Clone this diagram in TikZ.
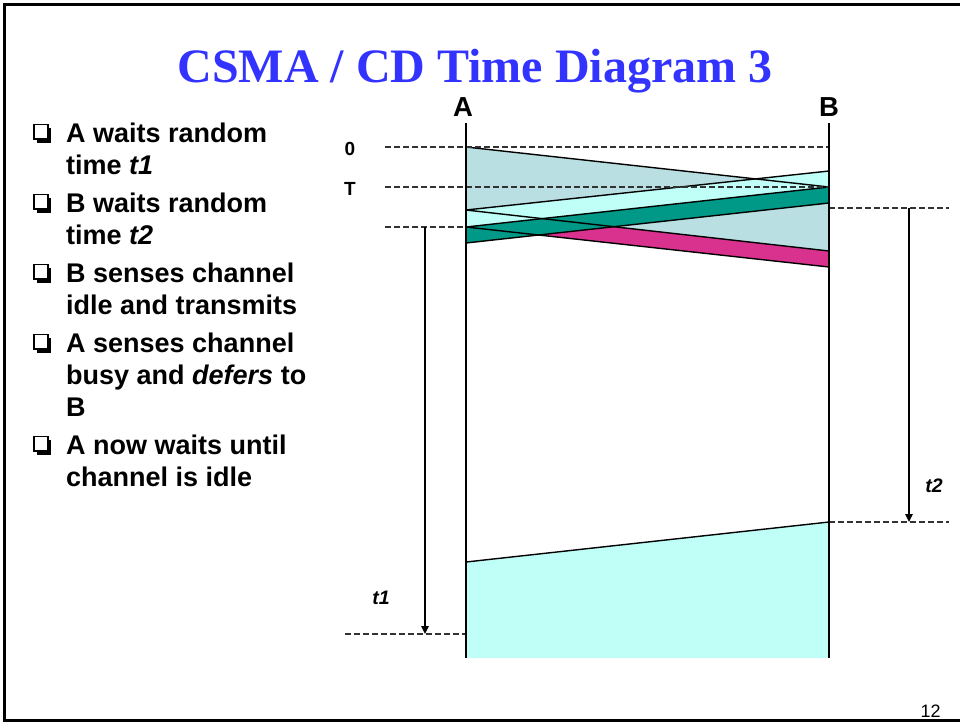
\documentclass[tikz,border=0pt]{standalone}
\usepackage{fontspec}
\setmainfont{Liberation Serif}
\setsansfont{Liberation Sans}
\usetikzlibrary{arrows.meta}

\definecolor{titleblue}{RGB}{51,51,255}
\definecolor{frameA}{RGB}{186,223,227}
\definecolor{frameB}{RGB}{191,255,248}
\definecolor{jamB}{RGB}{0,153,136}
\definecolor{jamA}{RGB}{217,50,142}
\definecolor{guide}{RGB}{50,50,50}

\tikzset{
  station/.style={line width=1.3pt, draw=black},
  edge/.style={line width=1.4pt, draw=black},
  guideline/.style={draw=guide, line width=1.3pt, dash pattern=on 5.5pt off 3.5pt},
  timearrow/.style={line width=1.3pt, -{Triangle[length=8pt,width=7.5pt]}},
  bullettext/.style={anchor=base west, inner sep=0pt, font=\sffamily\bfseries\fontsize{27}{30}\selectfont},
  stationlabel/.style={anchor=base, inner sep=0pt, font=\sffamily\bfseries\fontsize{27.5}{30}\selectfont},
  ticklabel/.style={anchor=base, inner sep=0pt, font=\sffamily\bfseries\fontsize{19}{20}\selectfont},
  durlabel/.style={anchor=base, inner sep=0pt, font=\sffamily\bfseries\itshape\fontsize{19.5}{22}\selectfont},
}

% hollow square bullet with a drop shadow, baseline at (#1,#2)
\newcommand{\sqbullet}[2]{%
  \fill[black] (#1+2.5,#2-14) rectangle (#1+17,#2+0.5);
  \filldraw[fill=white, draw=black, line width=1.6pt] (#1,#2-17.5) rectangle (#1+14,#2-3);
}

\begin{document}
\begin{tikzpicture}[x=1pt,y=-1pt]
\useasboundingbox (0,0) rectangle (960,721);
\fill[white] (0,0) rectangle (960,721);

% slide frame
\draw[line width=3pt] (962,4) -- (4.5,4) -- (4.5,720) -- (962,720);

% title
\node[anchor=base, inner sep=0pt, text=titleblue,
      font=\rmfamily\bfseries\fontsize{48}{56}\selectfont] (title) at (475,82)
      {CSMA / CD Time Diagram 3};

% bullet list
\foreach \yb in {142,212,282,352,454} {\sqbullet{34}{\yb}}
\node[bullettext] (b1a) at (66,142) {A waits random};
\node[bullettext] (b1b) at (66,174) {time \textit{t1}};
\node[bullettext] (b2a) at (66,212) {B waits random};
\node[bullettext] (b2b) at (66,244) {time \textit{t2}};
\node[bullettext] (b3a) at (66,282) {B senses channel};
\node[bullettext] (b3b) at (66,314) {idle and transmits};
\node[bullettext] (b4a) at (66,352) {A senses channel};
\node[bullettext] (b4b) at (66,384) {busy and \textit{defers} to};
\node[bullettext] (b4c) at (66,416) {B};
\node[bullettext] (b5a) at (66,454) {A now waits until};
\node[bullettext] (b5b) at (66,486) {channel is idle};

% key points on the two station time lines
\coordinate (Atop) at (466,123);  \coordinate (Abot) at (466,658);
\coordinate (Btop) at (829,123);  \coordinate (Bbot) at (829,658);
\coordinate (A0)   at (466,147);  \coordinate (B0)   at (829,147);
\coordinate (A210) at (466,210);  \coordinate (A227) at (466,227);
\coordinate (A243) at (466,243);  \coordinate (A562) at (466,562);
\coordinate (A634) at (466,634);
\coordinate (B171) at (829,171);  \coordinate (BT)   at (829,187);
\coordinate (B203) at (829,203);  \coordinate (B208) at (829,208);
\coordinate (B251) at (829,251);  \coordinate (B267) at (829,267);
\coordinate (B522) at (829,522);
\coordinate (L0) at (385,147);  \coordinate (LT) at (385,187);
\coordinate (L1) at (385,227);  \coordinate (L3) at (345,634);
\coordinate (R1) at (949,208);  \coordinate (R2) at (949,522);
\coordinate (t1s) at (425,227); \coordinate (t1e) at (425,634);
\coordinate (t2s) at (909,208); \coordinate (t2e) at (909,522);

% frames in flight
\fill[frameA] (A0) -- (BT) -- (B251) -- (A210) -- cycle;
\fill[jamA]   (A210) -- (B251) -- (B267) -- (A227) -- cycle;
\fill[frameB] (B171) -- (A210) -- (A227) -- (BT) -- cycle;
\fill[jamB]   (BT) -- (A227) -- (A243) -- (B203) -- cycle;
\fill[frameB] (A562) -- (B522) -- (Bbot) -- (Abot) -- cycle;

% frame edges
\draw[edge] (A0) -- (BT);
\draw[edge] (A210) -- (B251);
\draw[edge] (A227) -- (B267);
\draw[edge] (B171) -- (A210);
\draw[edge] (BT) -- (A227);
\draw[edge] (B203) -- (A243);
\draw[edge] (A562) -- (B522);

% guide lines
\draw[guideline] (L0) -- (B0);
\draw[guideline] (LT) -- (BT);
\draw[guideline] (L1) -- (A227);
\draw[guideline] (L3) -- (A634);
\draw[guideline] (B208) -- (R1);
\draw[guideline] (B522) -- (R2);

% station time lines
\draw[station] (Atop) -- (Abot);
\draw[station] (Btop) -- (Bbot);

% random waiting times
\draw[timearrow] (t1s) -- (t1e);
\draw[timearrow] (t2s) -- (t2e);

% labels
\node[stationlabel] (labA) at (463,116) {A};
\node[stationlabel] (labB) at (829,116) {B};
\node[ticklabel] (lab0) at (350,155) {0};
\node[ticklabel] (labT) at (350,195) {T};
\node[durlabel] (labt1) at (381,604) {t1};
\node[durlabel] (labt2) at (934,492) {t2};
\node[anchor=base, inner sep=0pt, font=\sffamily\fontsize{18}{20}\selectfont]
      (page) at (930.5,717) {12};
\end{tikzpicture}
\end{document}
